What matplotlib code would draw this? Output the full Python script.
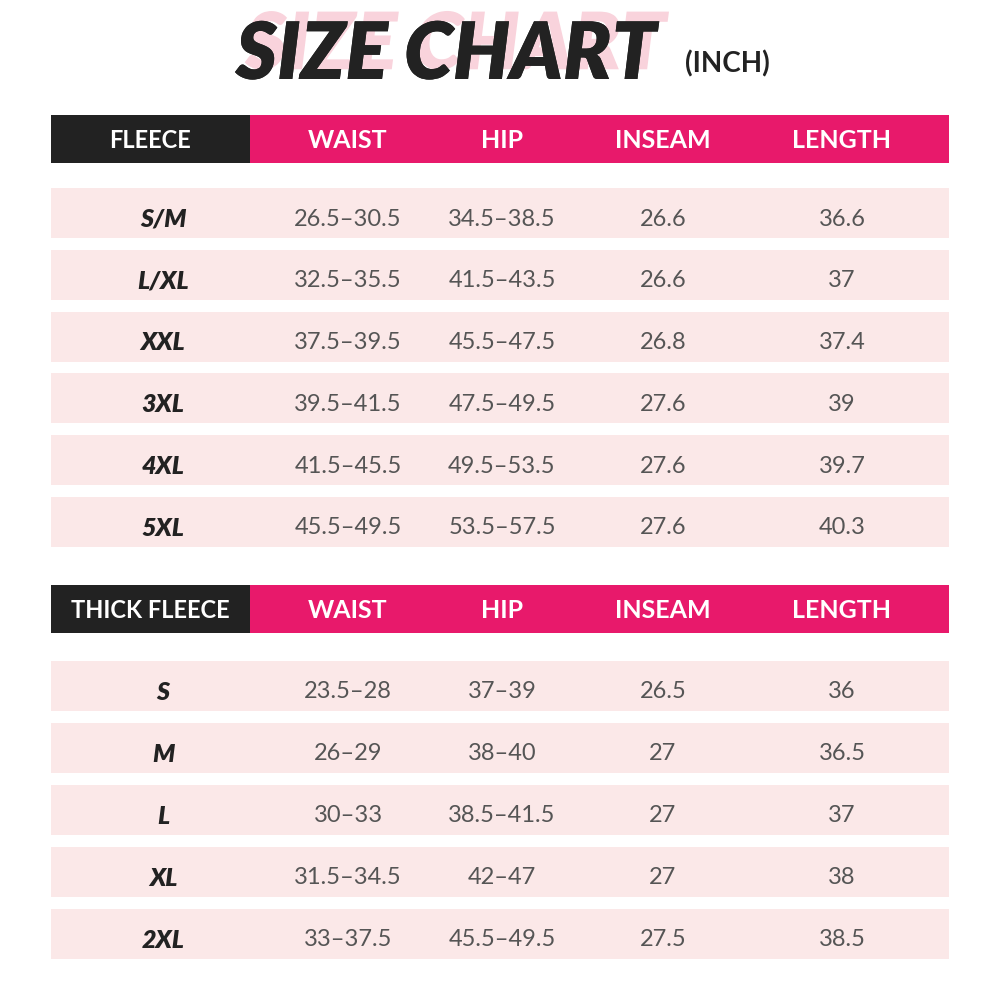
import matplotlib
matplotlib.use("Agg")
import matplotlib.pyplot as plt
from matplotlib.patches import Rectangle
import matplotlib.patheffects as pe

columns = ["WAIST", "HIP", "INSEAM", "LENGTH"]
sec1_name = "FLEECE"
sec1_sizes = ["S/M", "L/XL", "XXL", "3XL", "4XL", "5XL"]
sec1_waist = ["26.5-30.5", "32.5-35.5", "37.5-39.5", "39.5-41.5", "41.5-45.5", "45.5-49.5"]
sec1_hip = ["34.5-38.5", "41.5-43.5", "45.5-47.5", "47.5-49.5", "49.5-53.5", "53.5-57.5"]
sec1_inseam = ["26.6", "26.6", "26.8", "27.6", "27.6", "27.6"]
sec1_length = ["36.6", "37", "37.4", "39", "39.7", "40.3"]
sec2_name = "THICK FLEECE"
sec2_sizes = ["S", "M", "L", "XL", "2XL"]
sec2_waist = ["23.5-28", "26-29", "30-33", "31.5-34.5", "33-37.5"]
sec2_hip = ["37-39", "38-40", "38.5-41.5", "42-47", "45.5-49.5"]
sec2_inseam = ["26.5", "27", "27", "27", "27.5"]
sec2_length = ["36", "36.5", "37", "38", "38.5"]

PINK = "#E8196B"
BLACK = "#222222"
ROW = "#FBE8E8"
GRAY = "#555555"
FONT = "Lato"

fig = plt.figure(figsize=(10, 10), dpi=100)
ax = fig.add_axes([0, 0, 1, 1])
ax.set_xlim(0, 1000)
ax.set_ylim(1000, 0)
ax.axis("off")

colx = [163, 348, 502, 663, 842]

ax.text(446, 56, "SIZE CHART", fontsize=57, fontweight="heavy", style="italic",
        family=FONT, color=BLACK, ha="center", va="center",
        path_effects=[pe.withSimplePatchShadow(offset=(7, 7), shadow_rgbFace="#F9D3DC", alpha=1.0),
                      pe.Normal()])
ax.text(727, 64, "(INCH)", fontsize=20, fontweight="bold", family=FONT,
        color=BLACK, ha="center", va="center")

def section(htop, name, sizes, cols, row_tops):
    ax.add_patch(Rectangle((51, htop), 898, 48, color=PINK, lw=0))
    ax.add_patch(Rectangle((51, htop), 199, 48, color=BLACK, lw=0))
    ax.text(150, htop + 26, name, fontsize=17, fontweight="bold", family=FONT,
            color="white", ha="center", va="center")
    for x, c in zip(colx[1:], columns):
        ax.text(x, htop + 26, c, fontsize=18, fontweight="bold", family=FONT,
                color="white", ha="center", va="center")
    for i, t in enumerate(row_tops):
        ax.add_patch(Rectangle((51, t), 898, 50, color=ROW, lw=0))
        ax.text(colx[0], t + 31, sizes[i], fontsize=18, fontweight="heavy",
                style="italic", family=FONT, color=BLACK, ha="center", va="center")
        for x, col in zip(colx[1:], cols):
            ax.text(x, t + 31, col[i].replace("-", "–"), fontsize=17, family=FONT,
                    color=GRAY, ha="center", va="center")

section(115, sec1_name, sec1_sizes, [sec1_waist, sec1_hip, sec1_inseam, sec1_length],
        [188 + 61.8 * i for i in range(len(sec1_sizes))])
section(585, sec2_name, sec2_sizes, [sec2_waist, sec2_hip, sec2_inseam, sec2_length],
        [661 + 62 * i for i in range(len(sec2_sizes))])

fig.savefig("out.png", dpi=100, facecolor="white")
